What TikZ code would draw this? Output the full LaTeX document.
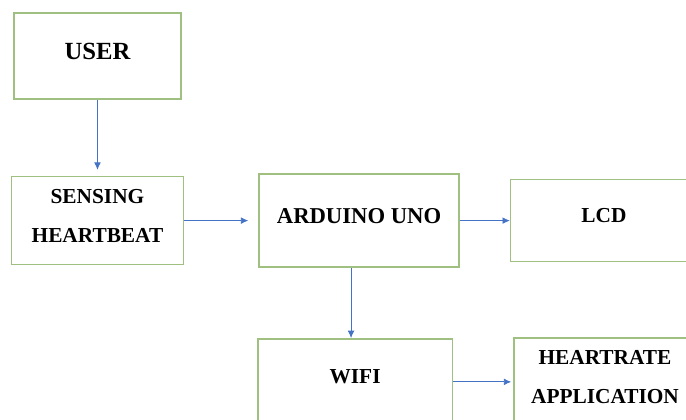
\documentclass[tikz,border=0pt]{standalone}
\usepackage{fontspec}
\setmainfont{Liberation Serif}
\usepackage{tikz}
\usetikzlibrary{arrows.meta, positioning, calc}
\definecolor{boxgreen}{RGB}{160, 192, 130}
\definecolor{linkblue}{RGB}{68, 114, 196}

\begin{document}
\begin{tikzpicture}[
    block/.style={rectangle, draw=boxgreen, line width=1.2pt, fill=white,
                  align=center, text depth=7.5pt,
                  font=\bfseries\fontsize{16}{29}\selectfont},
    link/.style={-{Latex[length=5.5pt,width=5pt]}, line width=0.6pt, color=linkblue}
]
\clip (0,0) rectangle (514.5pt,-314.25pt); % page frame, boxes on the right run off it
\node[block, minimum width=125pt, minimum height=64.5pt,
      font=\bfseries\fontsize{18.5}{29}\selectfont] (user) at (73.1pt,-42pt) {USER};
\node[block, minimum width=129pt, minimum height=66pt, below=57pt of user] (sensing) {SENSING\\HEARTBEAT};
\node[block, minimum width=150pt, minimum height=70pt, right=55.5pt of sensing,
      font=\bfseries\fontsize{17}{29}\selectfont] (arduino) {ARDUINO UNO};
\node[block, minimum width=140pt, minimum height=61.5pt, right=37.5pt of arduino] (lcd) {LCD};
\node[block, minimum width=146pt, minimum height=64.5pt, below=52.5pt of arduino, xshift=-3pt] (wifi) {WIFI};
\node[block, minimum width=136.5pt, minimum height=66pt, right=45pt of wifi] (heart) {HEARTRATE\\APPLICATION};
\coordinate (wifiin) at ([xshift=-3pt]wifi.north);

\draw[link, shorten >=4.5pt] (user) -- (sensing);
\draw[link, shorten >=7.5pt] (sensing) -- (sensing -| arduino.west);
\draw[link] (arduino.east) -- (arduino.east -| lcd.west);
\draw[link] (arduino.south -| wifiin) -- (wifiin);
\draw[link, shorten >=1.5pt] (wifi.east) -- (wifi.east -| heart.west);
\end{tikzpicture}
\end{document}
